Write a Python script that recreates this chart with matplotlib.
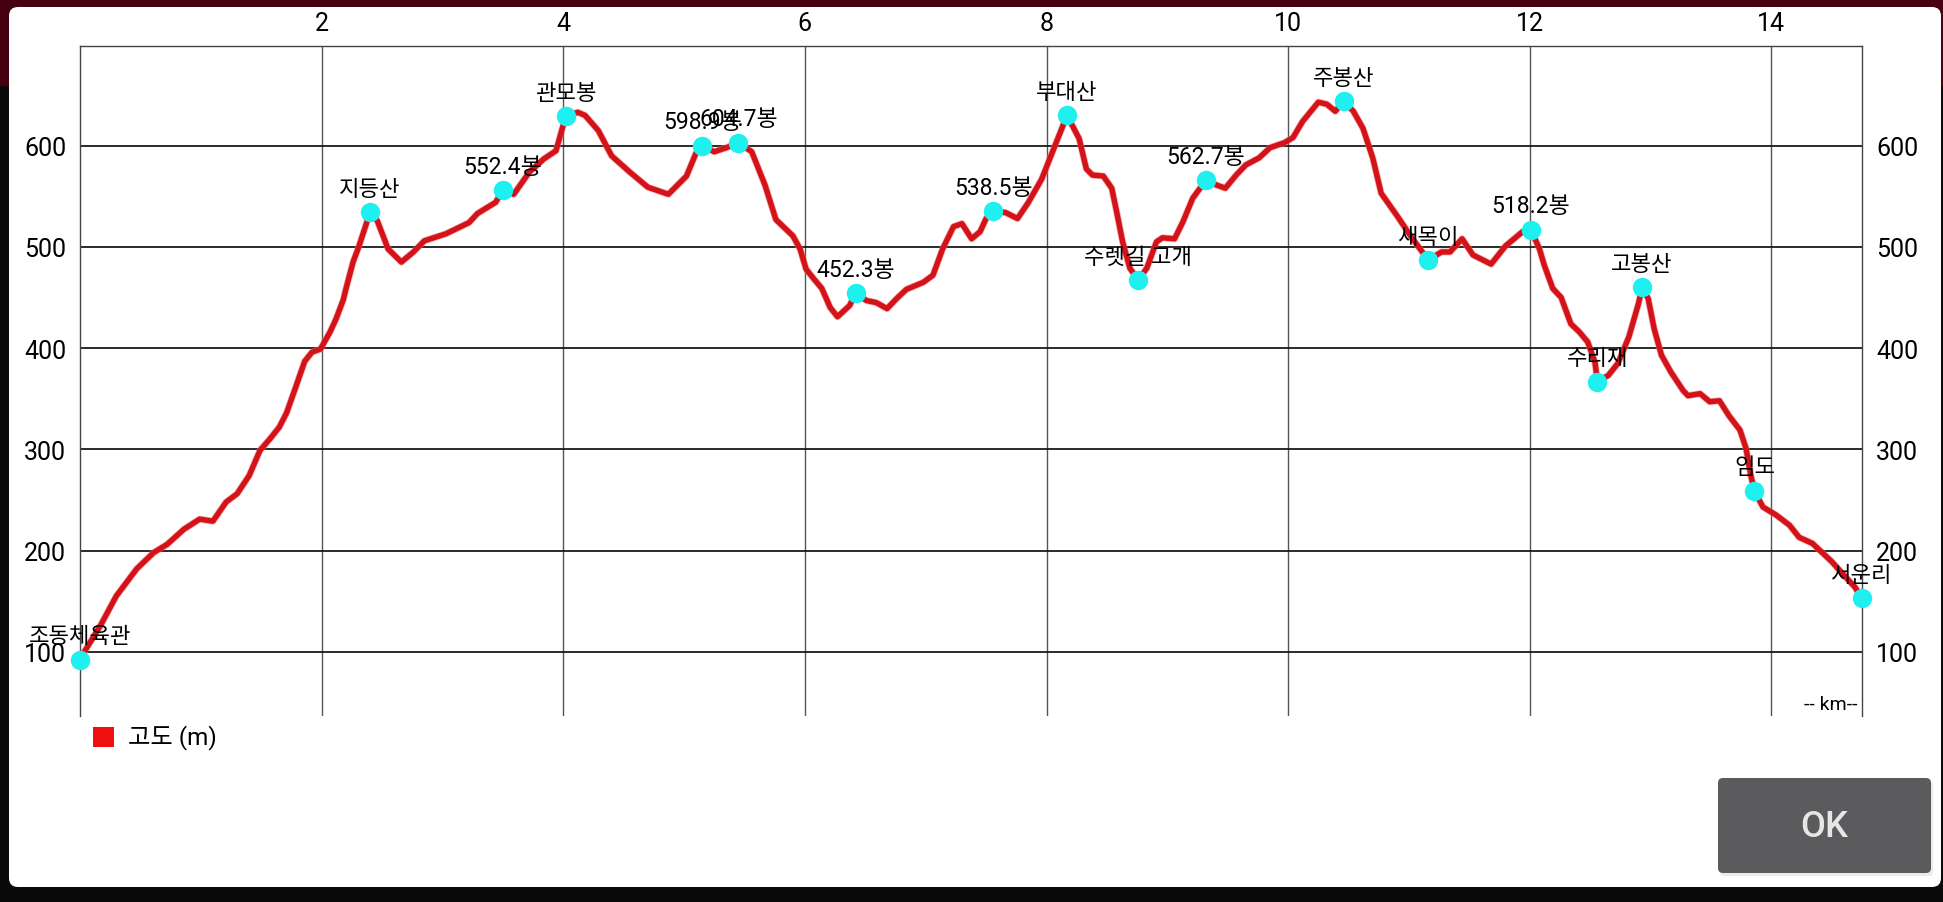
import matplotlib
matplotlib.use("Agg")
import matplotlib.pyplot as plt
import matplotlib.patheffects as pe
from matplotlib.patches import FancyBboxPatch, Rectangle

plt.rcParams['font.family'] = ['Roboto', 'Noto Sans CJK KR', 'DejaVu Sans']

# 고도 프로파일 (거리 km, 고도 m) - 그림에서 읽은 값
dist_km = [0.00, 0.17, 0.30, 0.47, 0.61, 0.72, 0.86, 0.99, 1.10, 1.21, 1.30, 1.40,
           1.49, 1.57, 1.65, 1.71, 1.79, 1.86, 1.92, 1.99, 2.07, 2.12, 2.18, 2.20,
           2.26, 2.31, 2.40, 2.46, 2.55, 2.66, 2.76, 2.85, 3.03, 3.22, 3.29, 3.44,
           3.50, 3.59, 3.72, 3.84, 3.94, 3.99, 4.02, 4.12, 4.18, 4.29, 4.40, 4.55,
           4.70, 4.87, 5.02, 5.10, 5.15, 5.25, 5.35, 5.45, 5.56, 5.67, 5.76, 5.90,
           5.96, 6.01, 6.07, 6.14, 6.21, 6.27, 6.37, 6.42, 6.51, 6.59, 6.68, 6.76,
           6.84, 6.98, 7.06, 7.14, 7.23, 7.30, 7.38, 7.45, 7.50, 7.56, 7.66, 7.76,
           7.85, 7.96, 8.07, 8.17, 8.27, 8.33, 8.38, 8.47, 8.54, 8.58, 8.63, 8.69,
           8.76, 8.83, 8.91, 8.96, 9.06, 9.13, 9.21, 9.32, 9.41, 9.48, 9.57, 9.65,
           9.76, 9.85, 9.97, 10.04, 10.12, 10.25, 10.32, 10.39, 10.46, 10.54, 10.62,
           10.70, 10.77, 10.90, 11.03, 11.16, 11.27, 11.34, 11.44, 11.53, 11.68,
           11.80, 11.94, 12.01, 12.08, 12.12, 12.19, 12.26, 12.34, 12.41, 12.48,
           12.54, 12.56, 12.65, 12.73, 12.82, 12.90, 12.93, 12.98, 13.03, 13.09,
           13.17, 13.27, 13.31, 13.41, 13.49, 13.57, 13.65, 13.74, 13.79, 13.83,
           13.86, 13.93, 14.04, 14.15, 14.23, 14.34, 14.42, 14.50, 14.59, 14.69, 14.75]
elev_m = [93, 126, 155, 182, 198, 206, 221, 231, 229, 248, 256, 274,
          299, 310, 322, 336, 363, 387, 396, 399, 416, 429, 448, 458,
          485, 501, 534, 526, 498, 485, 495, 506, 513, 524, 533, 544,
          556, 552, 574, 587, 595, 616, 629, 633, 630, 615, 590, 574,
          559, 552, 570, 593, 600, 594, 598, 603, 594, 561, 527, 511,
          498, 478, 469, 459, 440, 431, 442, 454, 447, 445, 439, 449,
          458, 465, 472, 498, 520, 523, 508, 515, 528, 535, 534, 528,
          544, 567, 600, 630, 607, 577, 571, 570, 558, 535, 505, 479,
          467, 479, 505, 509, 508, 525, 548, 566, 561, 558, 571, 581,
          588, 598, 603, 608, 624, 643, 641, 634, 644, 634, 617,
          588, 553, 531, 508, 487, 495, 495, 508, 492, 483,
          501, 515, 517, 498, 482, 459, 450, 424, 416, 406,
          386, 367, 373, 385, 411, 444, 460, 449, 419, 393,
          376, 358, 353, 355, 347, 348, 333, 319, 301, 274,
          259, 243, 235, 225, 213, 207, 198, 189, 177, 164, 153]

# 지점 (이름, 거리, 고도)
wp_names = ['조동체육관', '지등산', '552.4봉', '관모봉', '598.9봉', '604.7봉', '452.3봉',
            '538.5봉', '부대산', '수렛길 고개', '562.7봉', '주봉산', '새목이', '518.2봉',
            '수리재', '고봉산', '임도', '서운리']
wp_km = [0.00, 2.40, 3.50, 4.02, 5.15, 5.45, 6.42, 7.56, 8.17, 8.76, 9.32, 10.46,
         11.16, 12.01, 12.56, 12.93, 13.86, 14.75]
wp_elev = [92, 534, 556, 629, 600, 603, 454, 535, 630, 467, 566, 644,
           487, 517, 367, 460, 259, 153]

x_ticks = [2, 4, 6, 8, 10, 12, 14]
y_ticks = [100, 200, 300, 400, 500, 600]
legend_label = '고도 (m)'
unit_label = '-- km--'
button_label = 'OK'

W, H = 1943, 903
fig = plt.figure(figsize=(W / 100, H / 100), dpi=100)
fig.patch.set_facecolor('#0a0a0a')


def inch(x, y):
    # 픽셀 좌표(위 기준) -> 인치 좌표(아래 기준)
    return x / 100, (H - y) / 100


# 배경 (상단 붉은 띠 + 흰 대화상자)
fig.add_artist(Rectangle(inch(0, 87), W / 100, 87 / 100, transform=fig.dpi_scale_trans,
                         facecolor='#470010', edgecolor='none', zorder=-3))
fig.add_artist(FancyBboxPatch(inch(9, 888), (1941 - 9) / 100, (888 - 8) / 100,
                              boxstyle='round,pad=0,rounding_size=0.09',
                              transform=fig.dpi_scale_trans,
                              facecolor='white', edgecolor='none', zorder=-2))

ax = fig.add_axes([80 / W, (H - 717) / H, (1862 - 80) / W, (717 - 47) / H])
ax.set_facecolor('white')
ax.set_xlim(0, 14.75)
ax.set_ylim(36.5, 698.5)

ax.set_xticks(x_ticks)
ax.set_xticklabels([str(t) for t in x_ticks])
ax.set_yticks(y_ticks)
ax.set_yticklabels([str(t) for t in y_ticks])
ax.xaxis.tick_top()
ax.tick_params(axis='x', length=0, pad=8, labelsize=18, colors='black')
ax.tick_params(axis='y', length=0, pad=10, labelsize=18, colors='black',
               left=True, right=True, labelleft=True, labelright=True)

ax.grid(axis='y', color='#1a1a1a', linewidth=1.3)
ax.grid(axis='x', color='#555555', linewidth=1.0)
ax.set_axisbelow(True)
for side in ['top', 'left', 'right']:
    ax.spines[side].set_color('#444444')
    ax.spines[side].set_linewidth(1.0)
ax.spines['bottom'].set_visible(False)

# 고도 선
ax.plot(dist_km, elev_m, color='#d4121a', linewidth=3.9, solid_joinstyle='round',
        solid_capstyle='round', zorder=3,
        path_effects=[pe.Stroke(linewidth=5.0, foreground='#f07070', alpha=0.55), pe.Normal()])

# 지점 마커
ax.plot(wp_km, wp_elev, 'o', markersize=14, color='#1ef0f0', markeredgewidth=0,
        clip_on=False, zorder=4)
for name, km, el in zip(wp_names, wp_km, wp_elev):
    has_digit = any(c.isdigit() for c in name)
    ax.annotate(name, (km, el), xytext=(0, 12.5), textcoords='offset points',
                ha='center', va='baseline', fontsize=16.5 if has_digit else 16,
                color='black', annotation_clip=False, zorder=6)

ax.text(0.9975, 0.018, unit_label, transform=ax.transAxes, ha='right', va='center',
        fontsize=14, color='black')

# 범례
fig.add_artist(Rectangle(inch(93, 748), 21 / 100, 20 / 100, transform=fig.dpi_scale_trans,
                         facecolor='#ee1010', edgecolor='none', zorder=5))
x0, y0 = inch(128, 738)
fig.text(x0 * 100 / W, y0 * 100 / H, legend_label, ha='left', va='center',
         fontsize=17.5, color='black')

# OK 버튼
fig.add_artist(FancyBboxPatch(inch(1720, 877), 213 / 100, 95 / 100,
                              boxstyle='round,pad=0,rounding_size=0.05',
                              transform=fig.dpi_scale_trans,
                              facecolor='#d8d8d8', edgecolor='none', alpha=0.5, zorder=4))
fig.add_artist(FancyBboxPatch(inch(1718, 874), 213 / 100, 95 / 100,
                              boxstyle='round,pad=0,rounding_size=0.05',
                              transform=fig.dpi_scale_trans,
                              facecolor='#5b5b5d', edgecolor='none', zorder=5))
bx, by = inch(1824, 828)
fig.text(bx * 100 / W, by * 100 / H, button_label, ha='center', va='center',
         fontsize=26, fontweight='medium', color='#e6e6e6', zorder=6)

fig.savefig('out.png', dpi=100, facecolor=fig.get_facecolor())
